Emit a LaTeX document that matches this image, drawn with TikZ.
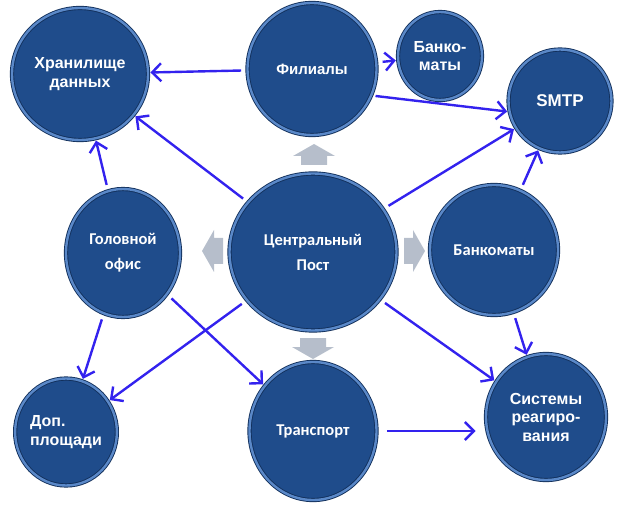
\documentclass[tikz,border=0pt]{standalone}
\usepackage{fontspec}
\newfontfamily\arialbf{Liberation Sans}
\newfontfamily\calibri{Carlito}
\usepackage{tikz}
\usetikzlibrary{arrows.meta, shapes.geometric, shadows, calc}
\definecolor{ballblue}{HTML}{1F4C8B}
\definecolor{balledge}{HTML}{12305C}
\definecolor{ballrim}{HTML}{5A88C8}
\definecolor{linkblue}{HTML}{3322EE}
\definecolor{greyarrow}{HTML}{B6BECB}
\newcommand{\blockarrow}[2]
{
	\fill[greyarrow, shift={(#1)}, rotate=#2] (0,-13) -- (9,-13) -- (9,-21) -- (21,0) -- (9,21) -- (9,13) -- (0,13) -- cycle
}

\begin{document}
\begin{tikzpicture}[x=1pt, y=1pt,
	ball/.style={ellipse, fill=ballblue, draw=balledge, line width=0.9pt, double=ballrim, double distance=2.4pt, text=white, align=center, inner sep=0pt, drop shadow={opacity=0.25, shadow xshift=1pt, shadow yshift=-2pt}},
	boldtext/.style={font=\arialbf\bfseries\fontsize{16}{18.5}\selectfont},
	plaintext/.style={font=\calibri\bfseries\fontsize{16.5}{25}\selectfont},
	link/.style={draw=linkblue, line width=2.4pt, -{Straight Barb[length=9pt, width=18pt]}, shorten <=6pt, shorten >=2pt}]

	\useasboundingbox (0,0) rectangle (628,506);

	\node[ball, boldtext, minimum width=136pt, minimum height=132pt] (store) at (80,432) {Хранилище\\данных};
	\node[ball, boldtext, minimum width=129pt, minimum height=132pt, font=\arialbf\bfseries\fontsize{15}{18}\selectfont] (branch) at (312,437) {Филиалы};
	\node[ball, boldtext, minimum width=84pt, minimum height=88pt] (atms) at (440,450) {Банко-\\маты};
	\node[ball, boldtext, minimum width=103pt, minimum height=103pt, font=\arialbf\bfseries\fontsize{17}{20}\selectfont] (smtp) at (560,405) {SMTP};
	\node[ball, plaintext, minimum width=114pt, minimum height=128pt] (head) at (123,253) {Головной\\офис};
	\node[ball, plaintext, minimum width=167pt, minimum height=157pt] (cent) at (313,254) {Центральный\\Пост};
	\node[ball, plaintext, minimum width=128pt, minimum height=130pt] (atm) at (494,256) {Банкоматы};
	\node[ball, boldtext, align=left, minimum width=97pt, minimum height=107pt] (dop) at (66,74) {Доп.\\площади};
	\node[ball, plaintext, minimum width=127pt, minimum height=138pt] (trans) at (313,75) {Транспорт};
	\node[ball, boldtext, minimum width=120pt, minimum height=126pt] (resp) at (546,89) {Системы\\реагиро-\\вания};

	\draw[link] (branch) -- (store);
	\draw[link] (cent) -- (store);
	\draw[link] (head) -- (store);
	\draw[link] (branch) -- (atms);
	\draw[link, shorten <=4pt] (branch.-24) -- (smtp.192);
	\draw[link] (cent) -- (smtp);
	\draw[link] (atm) -- (smtp);
	\draw[link] (atm) -- (resp);
	\draw[link] (cent) -- (resp);
	\draw[link, shorten <=10pt, shorten >=10pt] (trans.east) -- (trans.east -| resp.west);
	\draw[link] (head) -- (dop);
	\draw[link] (cent) -- (dop);
	\draw[link] (head) -- (trans);

	\blockarrow{314,341}{90};
	\blockarrow{313,168}{-90};
	\blockarrow{223,255}{180};
	\blockarrow{404,255}{0};
\end{tikzpicture}
\end{document}
